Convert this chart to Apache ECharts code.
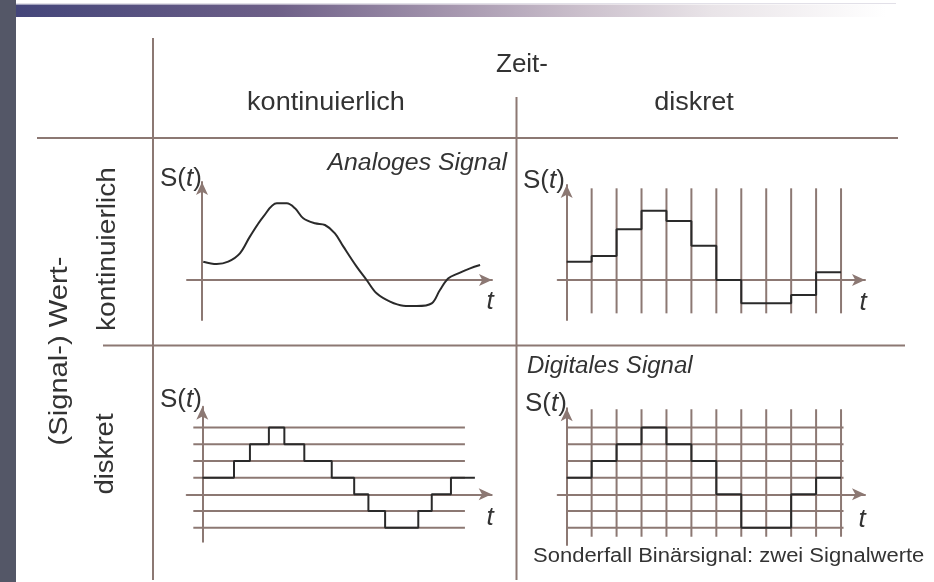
<!DOCTYPE html>
<html>
<head>
<meta charset="utf-8">
<title>Signalarten</title>
<script src="https://cdn.jsdelivr.net/npm/echarts@6/dist/echarts.min.js"></script>
<style>body{margin:0;background:#fff}</style>
</head>
<body>
<div id="chart" style="width:934px;height:582px;"></div>
<script type="text/javascript">
// Abtastzeitpunkte (senkrechte Rasterlinien)
var sampleTimes = [1, 2, 3, 4, 5, 6, 7, 8, 9, 10, 11];
// Quantisierungsstufen (die 0 ist die t-Achse selbst)
var levels = [-2, -1, 1, 2, 3, 4];
// analoges Signal
var analogT = [0.05, 0.59, 1.05, 1.52, 1.92, 2.46, 3.00, 3.40, 3.73, 4.06, 4.53, 4.93, 5.33, 5.67, 6.20, 6.60, 7.00, 7.54, 8.07, 8.61, 9.21, 9.54, 9.88, 10.28, 10.75, 11.15];
var analogS = [1.10, 0.96, 1.10, 1.60, 2.60, 3.80, 4.60, 4.60, 4.30, 3.70, 3.40, 3.30, 2.80, 2.00, 0.80, 0.00, -0.80, -1.30, -1.54, -1.56, -1.40, -0.60, 0.10, 0.40, 0.70, 0.90];
// zeitdiskret, wertkontinuierlich (Abtastwerte)
var sampledS = [1.1, 1.44, 3.04, 4.16, 3.54, 2.06, 0, -1.4, -1.4, -0.9, 0.46];
// zeitkontinuierlich, wertdiskret
var quantT = [0, 1.27, 1.91, 2.67, 3.29, 4.09, 5.19, 6.09, 6.66, 7.33, 8.66, 9.2, 9.97, 10.93];
var quantS = [1, 2, 3, 4, 3, 2, 1, 0, -1, -2, -1, 0, 1, 1];
// digitales Signal
var digitalS = [1, 2, 3, 4, 3, 2, 0, -2, -2, 0, 1];

var brown = '#8c7873';
var ink = '#2a2a2a';
var pxT = 24.94, pxS = 16.67;

// Lage der vier Teilbilder (ox/oy = Ursprung in Pixeln)
var panels = [
    {left: 187, top: 182, width: 305, height: 138, ox: 202, oy: 280},
    {left: 557.7, top: 185, width: 307.3, height: 135, ox: 566.7, oy: 280},
    {left: 186.7, top: 406.7, width: 305, height: 135, ox: 202.3, oy: 494.3},
    {left: 557.7, top: 408.3, width: 307.3, height: 136.7, ox: 566.7, oy: 494.3}
];

var grids = [], xAxes = [], yAxes = [];
panels.forEach(function (p, i) {
    grids.push({left: p.left, top: p.top, width: p.width, height: p.height});
    var axisLine = {onZero: true, symbol: ['none', 'arrow'], symbolSize: [9, 13],
        lineStyle: {color: brown, width: 2}};
    xAxes.push({type: 'value', gridIndex: i, min: (p.left - p.ox) / pxT, max: (p.left + p.width - p.ox) / pxT,
        axisLine: axisLine, axisTick: {show: false}, axisLabel: {show: false}, splitLine: {show: false}});
    yAxes.push({type: 'value', gridIndex: i, min: (p.oy - p.top - p.height) / pxS, max: (p.oy - p.top) / pxS,
        axisLine: axisLine, axisTick: {show: false}, axisLabel: {show: false}, splitLine: {show: false}});
});

function line(gi, data, color, z, extra) {
    var s = {type: 'line', xAxisIndex: gi, yAxisIndex: gi, data: data, symbol: 'none', silent: true,
        z: z, lineStyle: {color: color, width: 2}, animation: false};
    for (var k in extra) s[k] = extra[k];
    return s;
}

var series = [];
// Rasterlinien
sampleTimes.forEach(function (t) {
    series.push(line(1, [[t, -2.0], [t, 5.5]], brown, 1));
    series.push(line(3, [[t, -2.54], [t, 5.1]], brown, 1));
});
levels.forEach(function (l) {
    series.push(line(2, [[-0.36, l], [10.53, l]], brown, 1));
    series.push(line(3, [[0, l], [11.1, l]], brown, 1));
});

// Signale
series.push(line(0, analogT.map(function (t, i) { return [t, analogS[i]]; }), ink, 5, {smooth: 0.35}));
var sd = sampledS.map(function (v, k) { return [k, v]; });
sd.push([sampledS.length, sampledS[sampledS.length - 1]]);
series.push(line(1, sd, ink, 5, {step: 'end'}));
series.push(line(2, quantT.map(function (t, i) { return [t, quantS[i]]; }), ink, 5, {step: 'end'}));
var dd = digitalS.map(function (v, k) { return [k, v]; });
dd.push([digitalS.length, digitalS[digitalS.length - 1]]);
series.push(line(3, dd, ink, 5, {step: 'end'}));

var txt = '#333';
function label(x, y, text, size, opt) {
    opt = opt || {};
    var el = {type: 'text', x: x, y: y, z: 10, style: {text: text, fill: txt,
        font: (opt.italic ? 'italic ' : '') + size + 'px "Liberation Sans", Arial, sans-serif',
        align: opt.align || 'center', verticalAlign: 'middle'}};
    if (opt.rot) el.rotation = opt.rot;
    if (opt.sx) el.scaleX = opt.sx;
    return el;
}
function st(x, y) {
    return {type: 'text', x: x, y: y, z: 10, style: {text: '{a|S(}{b|t}{a|)}', verticalAlign: 'middle', align: 'left',
        rich: {a: {fontSize: 26, fontFamily: 'Liberation Sans', fill: txt},
               b: {fontSize: 26, fontFamily: 'Liberation Sans', fontStyle: 'italic', fill: txt}}}};
}

var graphic = [
    {type: 'rect', shape: {x: 0, y: 0, width: 16, height: 582}, style: {fill: '#545767'}},
    {type: 'rect', shape: {x: 16, y: 3, width: 880, height: 1}, style: {fill: '#e2e0e8'}},
    {type: 'rect', shape: {x: 16, y: 4.5, width: 870, height: 12.5},
        style: {fill: new echarts.graphic.LinearGradient(0, 0, 1, 0, [
            {offset: 0, color: '#44467a'}, {offset: 0.3, color: '#6e6088'},
            {offset: 0.5, color: '#a596ae'}, {offset: 0.65, color: '#cbc0cc'},
            {offset: 0.8, color: '#e9e4e8'}, {offset: 1, color: '#ffffff'}])}},
    // Tabellenlinien
    {type: 'line', shape: {x1: 153, y1: 38, x2: 153, y2: 580}, style: {stroke: brown, lineWidth: 2}},
    {type: 'line', shape: {x1: 516.5, y1: 97, x2: 516.5, y2: 580}, style: {stroke: brown, lineWidth: 2}},
    {type: 'line', shape: {x1: 37, y1: 138, x2: 898, y2: 138}, style: {stroke: brown, lineWidth: 2}},
    {type: 'line', shape: {x1: 103, y1: 345.5, x2: 905, y2: 345.5}, style: {stroke: brown, lineWidth: 2}},
    label(522, 65, 'Zeit-', 26),
    label(326, 103, 'kontinuierlich', 26, {sx: 1.04}),
    label(694, 103, 'diskret', 26, {sx: 1.04}),
    label(60, 351, '(Signal-) Wert-', 26, {rot: Math.PI / 2, sx: 1.12}),
    label(108, 249, 'kontinuierlich', 26, {rot: Math.PI / 2, sx: 1.08}),
    label(106, 454, 'diskret', 26, {rot: Math.PI / 2, sx: 1.06}),
    label(507, 164, 'Analoges Signal', 23, {italic: true, align: 'right', sx: 1.08}),
    label(527, 367, 'Digitales Signal', 23, {italic: true, align: 'left', sx: 1.045}),
    st(160, 179), st(523, 181), st(160, 400), st(525, 404),
    label(490, 302, 't', 26, {italic: true}),
    label(863, 303, 't', 26, {italic: true}),
    label(490, 518, 't', 26, {italic: true}),
    label(862, 520, 't', 26, {italic: true}),
    label(533, 556, 'Sonderfall Binärsignal: zwei Signalwerte', 20, {align: 'left', sx: 1.1})
];

var myChart = echarts.init(document.getElementById('chart'));
myChart.setOption({
    animation: false,
    backgroundColor: '#ffffff',
    grid: grids,
    xAxis: xAxes,
    yAxis: yAxes,
    series: series,
    graphic: graphic
});
</script>
</body>
</html>
